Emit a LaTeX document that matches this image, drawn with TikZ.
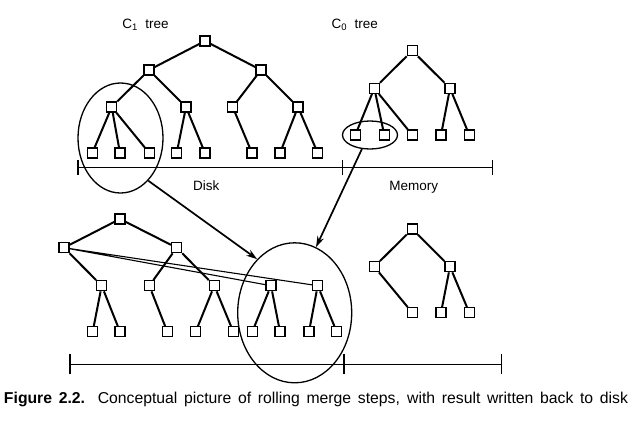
\documentclass[tikz,border=0pt]{standalone}
\usepackage{fontspec}
\setmainfont{Liberation Sans}
\usetikzlibrary{shapes.geometric,arrows.meta}
\begin{document}
\begin{tikzpicture}[x=1pt,y=-1pt,
  box/.style={draw,fill=white,minimum size=10pt,inner sep=0pt,line width=1.3pt},
  link/.style={line width=2pt},
  thinlink/.style={line width=1.1pt},
  ring/.style={draw,ellipse,inner sep=0pt,line width=1.3pt},
  axis/.style={line width=1.5pt},
  flow/.style={line width=1.7pt,-{Stealth[length=11pt,width=7pt]}},
  lbl/.style={font=\fontsize{13.5}{15}\selectfont,anchor=base,inner sep=0pt}]
\useasboundingbox (0,0) rectangle (640,421);

% C1 tree on disk
\node[box] (a0) at (205,41) {};
\node[box] (a1) at (149,70) {};
\node[box] (a2) at (261,70) {};
\node[box] (a3) at (111.7,107) {};
\node[box] (a4) at (186,107) {};
\node[box] (a5) at (232.7,107) {};
\node[box] (a6) at (298,107) {};
\node[box] (a7) at (92.3,153) {};
\node[box] (a8) at (120,153) {};
\node[box] (a9) at (149.3,153) {};
\node[box] (a10) at (176.7,153) {};
\node[box] (a11) at (205,153) {};
\node[box] (a12) at (252,153) {};
\node[box] (a13) at (280,153) {};
\node[box] (a14) at (317.7,153) {};
\draw[link] (a0)--(a1) (a0)--(a2) (a1)--(a3) (a1)--(a4) (a2)--(a5) (a2)--(a6)
  (a3)--(a7) (a3)--(a8) (a3)--(a9) (a4)--(a10) (a4)--(a11) (a5)--(a12)
  (a6)--(a13) (a6)--(a14);

% C0 tree in memory
\node[box] (b0) at (412.3,50.7) {};
\node[box] (b1) at (374.3,88.3) {};
\node[box] (b2) at (450,88.3) {};
\node[box] (b3) at (355.3,135) {};
\node[box] (b4) at (384.3,135) {};
\node[box] (b5) at (412.3,135) {};
\node[box] (b6) at (441,135) {};
\node[box] (b7) at (469.3,135) {};
\draw[link] (b0)--(b1) (b0)--(b2) (b1)--(b3) (b1)--(b4) (b1)--(b5)
  (b2)--(b6) (b2)--(b7);

% merged tree written back to disk
\node[box] (c0) at (120,219) {};
\node[box] (c1) at (64,247.7) {};
\node[box] (c2) at (176.7,247.7) {};
\node[box] (c3) at (101.7,285.7) {};
\node[box] (c4) at (149.3,285.7) {};
\node[box] (c5) at (214.3,285.7) {};
\node[box] (c6) at (271,285.7) {};
\node[box] (c7) at (317.7,285.7) {};
\node[box] (c8) at (92.7,331.7) {};
\node[box] (c9) at (120,331.7) {};
\node[box] (c10) at (167.3,331.7) {};
\node[box] (c11) at (195.7,331.7) {};
\node[box] (c12) at (233.3,331.7) {};
\node[box] (c13) at (252.3,331.7) {};
\node[box] (c14) at (280,331.7) {};
\node[box] (c15) at (309,331.7) {};
\node[box] (c16) at (336.7,331.7) {};
\draw[thinlink] (c1)--(c6) (c1)--(c7);
\draw[link] (c0)--(c1) (c0)--(c2) (c1)--(c3) (c2)--(c4) (c2)--(c5)
  (c3)--(c8) (c3)--(c9) (c4)--(c10) (c5)--(c11) (c5)--(c12)
  (c6)--(c13) (c6)--(c14) (c7)--(c15) (c7)--(c16);
\foreach \n in {c1,c6,c7} \node[box] at (\n) {};

% remaining C0 tree
\node[box] (d0) at (412.3,229) {};
\node[box] (d1) at (374.3,266.7) {};
\node[box] (d2) at (450,266.7) {};
\node[box] (d3) at (412.3,312.7) {};
\node[box] (d4) at (441,312.7) {};
\node[box] (d5) at (469.3,312.7) {};
\draw[link] (d0)--(d1) (d0)--(d2) (d1)--(d3) (d2)--(d4) (d2)--(d5);

% storage axes
\coordinate (t0) at (78,167.7);
\coordinate (t1) at (342.3,167.7);
\coordinate (t2) at (492.3,167.7);
\coordinate (u0) at (70,364.3);
\coordinate (u1) at (344,364.3);
\coordinate (u2) at (501.7,364.3);
\draw[axis] (t0)--(t2) (u0)--(u2);
\foreach \p in {t0,t1,t2}
  \draw[axis] ([yshift=7.5pt]\p)--([yshift=-7.5pt]\p);
\foreach \p in {u0,u1,u2}
  \draw[axis] ([yshift=10pt]\p)--([yshift=-10pt]\p);

% merge regions
\node[ring,minimum width=85pt,minimum height=110pt] (e1) at (120.5,138) {};
\node[ring,minimum width=55pt,minimum height=28pt] (e2) at (370,135) {};
\node[ring,minimum width=114pt,minimum height=140pt] (e3) at (294.7,312.8) {};
\draw[flow] (e1.-57)--(e3.125.7);
\draw[flow] (e2.-120)--(e3.72.3);

% labels
\node[lbl] (l1) at (145.5,28.3) {C\textsubscript{1}\ \ tree};
\node[lbl] (l0) at (354.7,28.3) {C\textsubscript{0}\ \ tree};
\node[lbl] (ldisk) at (206.3,190.7) {Disk};
\node[lbl] (lmem) at (413.8,190.7) {Memory};
\node[anchor=base,inner sep=0pt,font=\fontsize{15.75}{18}\selectfont] (cap) at (316,403)
  {\makebox[624pt][s]{\textbf{Figure 2.2.} Conceptual picture of rolling merge steps, with result written back to disk}};
\end{tikzpicture}
\end{document}
